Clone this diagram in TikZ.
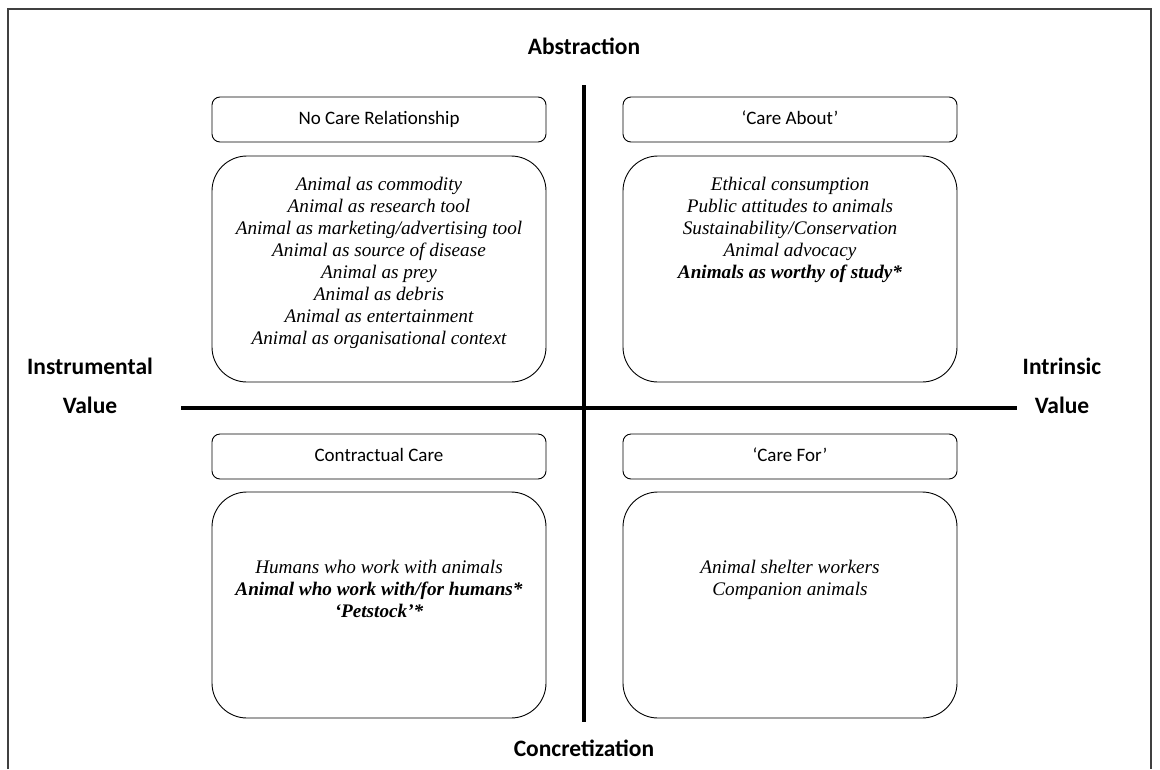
\documentclass[tikz,border=0pt]{standalone}
\usepackage{fontspec}
\setmainfont{Liberation Serif}
\newfontfamily\calib{Carlito}
\usetikzlibrary{positioning}

\begin{document}
\begin{tikzpicture}[x=1pt,y=-1pt,
  title box/.style={draw,rounded corners=8pt,minimum width=334pt,minimum height=45pt,text height=13pt,text depth=4pt,line width=0.9pt,font=\calib\fontsize{19}{22}\selectfont},
  item box/.style={draw,rounded corners=35pt,minimum width=334pt,minimum height=226pt,line width=0.9pt},
  item list/.style={anchor=north,align=center,font=\itshape\fontsize{19.2}{22}\selectfont},
  axis label/.style={align=center,font=\calib\bfseries\fontsize{23.5}{39}\selectfont},
  axis/.style={line width=3.5pt}]

  \useasboundingbox (0,0) rectangle (1160,769);
  \draw[line width=1.1pt,black!75] (8,769) -- (8,9) -- (1151,9) -- (1151,769);

  % quadrant titles
  \node[title box] (ncr) at (379,119.5) {No Care Relationship};
  \node[title box] (cab) at (790,119.5) {‘Care About’};
  \node[title box] (cc) at (379,456.5) {Contractual Care};
  \node[title box] (cfr) at (790,456.5) {‘Care For’};

  % quadrant boxes
  \node[item box] (ncrbox) at (379,269) {};
  \node[item box] (cabbox) at (790,269) {};
  \node[item box] (ccbox) at (379,605) {};
  \node[item box] (cfrbox) at (790,605) {};

  \node[item list] (ncrlist) at (379,174) {Animal as commodity\\Animal as research tool\\Animal as marketing/advertising tool\\Animal as source of disease\\Animal as prey\\Animal as debris\\Animal as entertainment\\Animal as organisational context};
  \node[item list] (cablist) at (790,174) {Ethical consumption\\Public attitudes to animals\\Sustainability/Conservation\\Animal advocacy\\\textbf{Animals as worthy of study*}};
  \node[item list] (cclist) at (379,557) {Humans who work with animals\\\textbf{Animal who work with/for humans*}\\\textbf{‘Petstock’*}};
  \node[item list] (cfrlist) at (790,557) {Animal shelter workers\\Companion animals};

  % axes
  \coordinate (west) at (181,408);
  \coordinate (east) at (1017,408);
  \coordinate (north) at (584,85);
  \coordinate (south) at (584,722);
  \draw[axis] (west) -- (east);
  \draw[axis] (north) -- (south);

  \node[axis label] (abs) at (584,46) {Abstraction};
  \node[axis label] (con) at (584,748) {Concretization};
  \node[axis label] (ins) at (90,386) {Instrumental\\Value};
  \node[axis label] (int) at (1062,386) {Intrinsic\\Value};
\end{tikzpicture}
\end{document}
